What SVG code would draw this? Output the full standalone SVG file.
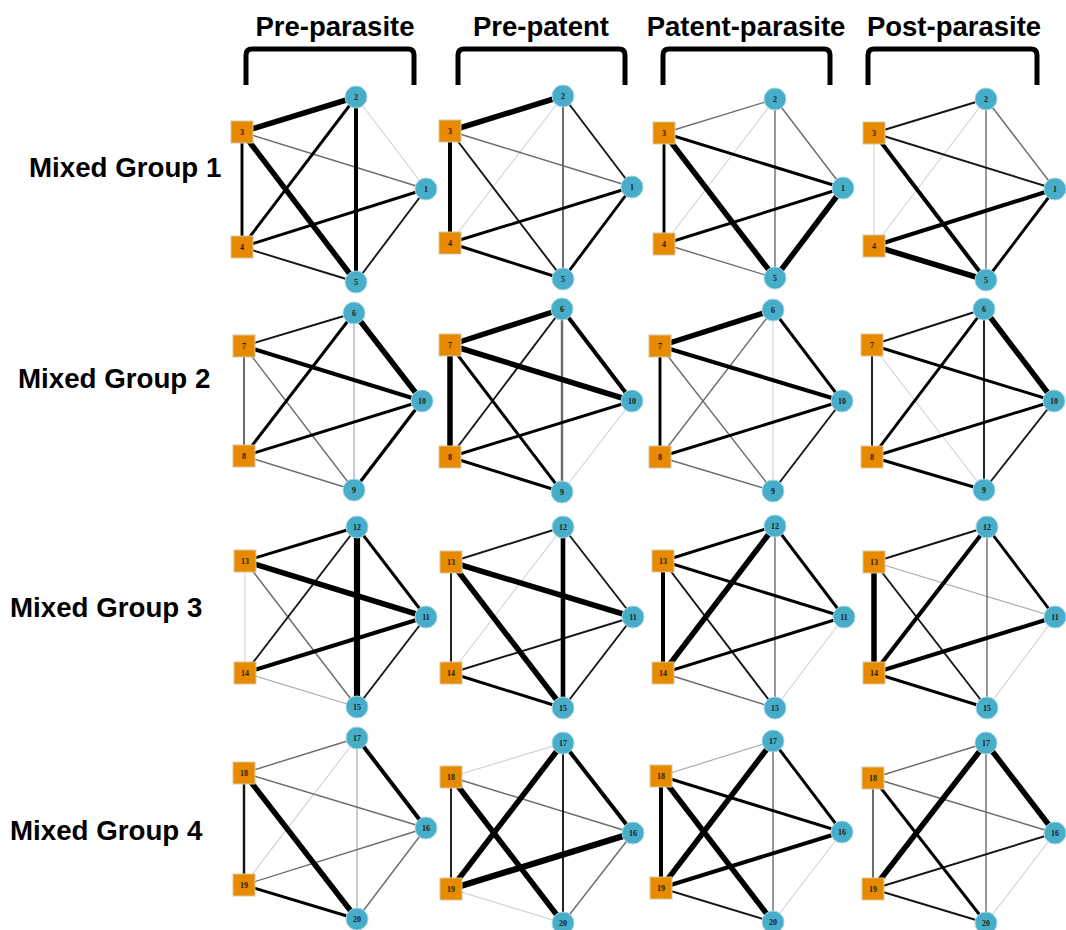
<svg xmlns="http://www.w3.org/2000/svg" width="1066" height="930" viewBox="0 0 1066 930">
<style>
  .hdr { font: bold 27.5px "Liberation Sans", Arial, sans-serif; fill: #000; text-anchor: middle; }
  .row { font: bold 27.7px "Liberation Sans", Arial, sans-serif; fill: #000; }
  .brk { fill: none; stroke: #000; stroke-width: 5; stroke-linejoin: round; }
  .edges line { stroke-linecap: butt; }
  .w1 { stroke: #d2d2d2; stroke-width: 1.1; }
  .w1b { stroke: #acacac; stroke-width: 1.2; }
  .w2 { stroke: #6b6b6b; stroke-width: 1.4; }
  .w3 { stroke: #161616; stroke-width: 1.9; }
  .w4 { stroke: #000; stroke-width: 2.9; }
  .w5 { stroke: #000; stroke-width: 4; }
  .w6 { stroke: #000; stroke-width: 5.5; }
  .c circle { fill: #47adc8; stroke: #a6d6e4; stroke-width: 1; }
  .s rect { fill: #e88a00; stroke: #d8c7a6; stroke-width: 1; }
  .c text, .s text { font: bold 8px "Liberation Serif", "Times New Roman", serif; fill: #1c1c1c; text-anchor: middle; }
</style>

<!-- column headings with brackets -->
<g id="headings">
  <text class="hdr" x="335" y="36">Pre-parasite</text>
  <text class="hdr" x="541" y="36">Pre-patent</text>
  <text class="hdr" x="746" y="36">Patent-parasite</text>
  <text class="hdr" x="954" y="36">Post-parasite</text>
  <path class="brk" d="M246,85 V55 Q246,49 252,49 H408 Q414,49 414,55 V85"/>
  <path class="brk" d="M458,85 V55 Q458,49 464,49 H619 Q625,49 625,55 V85"/>
  <path class="brk" d="M663,85 V55 Q663,49 669,49 H824 Q830,49 830,55 V85"/>
  <path class="brk" d="M868,85 V55 Q868,49 874,49 H1031 Q1037,49 1037,55 V85"/>
</g>

<!-- row labels -->
<g id="row-labels">
  <text class="row" x="29" y="177">Mixed Group 1</text>
  <text class="row" x="18" y="388">Mixed Group 2</text>
  <text class="row" x="10" y="617">Mixed Group 3</text>
  <text class="row" x="10" y="840">Mixed Group 4</text>
</g>

<!-- weighted association edges -->
<g id="connectors" class="edges">
  <!-- group 1, pre-parasite -->
  <line class="w1" x1="356" y1="97" x2="426" y2="189"/>
  <line class="w2" x1="242" y1="132" x2="426" y2="189"/>
  <line class="w3" x1="242" y1="247" x2="356" y2="282"/>
  <line class="w3" x1="426" y1="189" x2="356" y2="282"/>
  <line class="w4" x1="242" y1="132" x2="242" y2="247"/>
  <line class="w4" x1="356" y1="97" x2="242" y2="247"/>
  <line class="w4" x1="242" y1="247" x2="426" y2="189"/>
  <line class="w5" x1="356" y1="97" x2="356" y2="282"/>
  <line class="w6" x1="242" y1="132" x2="356" y2="97"/>
  <line class="w6" x1="242" y1="132" x2="356" y2="282"/>
  <!-- group 1, pre-patent -->
  <line class="w1" x1="563" y1="96" x2="450" y2="243"/>
  <line class="w2" x1="450" y1="131" x2="632" y2="187"/>
  <line class="w2" x1="563" y1="96" x2="563" y2="279" style="stroke-width:2"/>
  <line class="w3" x1="450" y1="131" x2="563" y2="279"/>
  <line class="w3" x1="563" y1="96" x2="632" y2="187"/>
  <line class="w4" x1="450" y1="243" x2="632" y2="187"/>
  <line class="w4" x1="450" y1="243" x2="563" y2="279"/>
  <line class="w4" x1="632" y1="187" x2="563" y2="279"/>
  <line class="w5" x1="450" y1="131" x2="450" y2="243"/>
  <line class="w6" x1="450" y1="131" x2="563" y2="96"/>
  <!-- group 1, patent-parasite -->
  <line class="w1" x1="775" y1="99" x2="664" y2="244"/>
  <line class="w2" x1="664" y1="133" x2="775" y2="99"/>
  <line class="w2" x1="775" y1="99" x2="775" y2="278"/>
  <line class="w2" x1="775" y1="99" x2="843" y2="188"/>
  <line class="w2" x1="664" y1="244" x2="775" y2="278"/>
  <line class="w4" x1="664" y1="133" x2="843" y2="188"/>
  <line class="w4" x1="664" y1="133" x2="664" y2="244"/>
  <line class="w4" x1="664" y1="244" x2="843" y2="188"/>
  <line class="w6" x1="664" y1="133" x2="775" y2="278"/>
  <line class="w6" x1="843" y1="188" x2="775" y2="278"/>
  <!-- group 1, post-parasite -->
  <line class="w1" x1="874" y1="133" x2="874" y2="246"/>
  <line class="w1" x1="986" y1="99" x2="874" y2="246"/>
  <line class="w2" x1="986" y1="99" x2="986" y2="280"/>
  <line class="w2" x1="986" y1="99" x2="1055" y2="189"/>
  <line class="w3" x1="874" y1="133" x2="986" y2="99"/>
  <line class="w3" x1="874" y1="133" x2="1055" y2="189"/>
  <line class="w4" x1="1055" y1="189" x2="986" y2="280"/>
  <line class="w5" x1="874" y1="133" x2="986" y2="280"/>
  <line class="w5" x1="874" y1="246" x2="1055" y2="189"/>
  <line class="w6" x1="874" y1="246" x2="986" y2="280"/>

  <!-- group 2, pre-parasite -->
  <line class="w1b" x1="354" y1="313" x2="354" y2="490"/>
  <line class="w2" x1="244" y1="346" x2="244" y2="456" style="stroke-width:2"/>
  <line class="w2" x1="244" y1="346" x2="354" y2="490"/>
  <line class="w2" x1="244" y1="456" x2="354" y2="490"/>
  <line class="w3" x1="244" y1="346" x2="354" y2="313"/>
  <line class="w4" x1="354" y1="313" x2="244" y2="456"/>
  <line class="w4" x1="244" y1="456" x2="422" y2="401"/>
  <line class="w4" x1="422" y1="401" x2="354" y2="490" style="stroke-width:3.3"/>
  <line class="w5" x1="244" y1="346" x2="422" y2="401"/>
  <line class="w6" x1="354" y1="313" x2="422" y2="401"/>
  <!-- group 2, pre-patent -->
  <line class="w1" x1="632" y1="401" x2="562" y2="492"/>
  <line class="w2" x1="562" y1="309" x2="562" y2="492" style="stroke-width:2.4"/>
  <line class="w3" x1="562" y1="309" x2="450" y2="457"/>
  <line class="w4" x1="450" y1="345" x2="562" y2="492"/>
  <line class="w4" x1="450" y1="457" x2="632" y2="401"/>
  <line class="w4" x1="450" y1="457" x2="562" y2="492"/>
  <line class="w5" x1="562" y1="309" x2="632" y2="401"/>
  <line class="w6" x1="450" y1="345" x2="562" y2="309"/>
  <line class="w6" x1="450" y1="345" x2="632" y2="401"/>
  <line class="w6" x1="450" y1="345" x2="450" y2="457"/>
  <!-- group 2, patent-parasite -->
  <line class="w1" x1="773" y1="310" x2="773" y2="491"/>
  <line class="w2" x1="660" y1="346" x2="773" y2="491"/>
  <line class="w2" x1="773" y1="310" x2="660" y2="457"/>
  <line class="w2" x1="660" y1="457" x2="773" y2="491"/>
  <line class="w3" x1="842" y1="401" x2="773" y2="491"/>
  <line class="w4" x1="660" y1="346" x2="660" y2="457"/>
  <line class="w4" x1="773" y1="310" x2="842" y2="401"/>
  <line class="w4" x1="660" y1="457" x2="842" y2="401"/>
  <line class="w5" x1="660" y1="346" x2="842" y2="401"/>
  <line class="w6" x1="660" y1="346" x2="773" y2="310"/>
  <!-- group 2, post-parasite -->
  <line class="w1" x1="872" y1="345" x2="984" y2="490"/>
  <line class="w3" x1="872" y1="345" x2="984" y2="309"/>
  <line class="w3" x1="872" y1="345" x2="872" y2="457"/>
  <line class="w3" x1="984" y1="309" x2="984" y2="490"/>
  <line class="w3" x1="1054" y1="401" x2="984" y2="490"/>
  <line class="w4" x1="872" y1="345" x2="1054" y2="401"/>
  <line class="w4" x1="984" y1="309" x2="872" y2="457"/>
  <line class="w4" x1="872" y1="457" x2="1054" y2="401"/>
  <line class="w4" x1="872" y1="457" x2="984" y2="490"/>
  <line class="w6" x1="984" y1="309" x2="1054" y2="401"/>

  <!-- group 3, pre-parasite -->
  <line class="w1" x1="245" y1="561" x2="245" y2="673"/>
  <line class="w1b" x1="245" y1="673" x2="357" y2="707"/>
  <line class="w2" x1="245" y1="561" x2="357" y2="707"/>
  <line class="w3" x1="357" y1="527" x2="245" y2="673"/>
  <line class="w3" x1="426" y1="617" x2="357" y2="707"/>
  <line class="w4" x1="245" y1="561" x2="357" y2="527"/>
  <line class="w4" x1="357" y1="527" x2="426" y2="617"/>
  <line class="w5" x1="245" y1="673" x2="426" y2="617"/>
  <line class="w6" x1="245" y1="561" x2="426" y2="617"/>
  <line class="w6" x1="357" y1="527" x2="357" y2="707" style="stroke-width:6.2"/>
  <!-- group 3, pre-patent -->
  <line class="w1" x1="563" y1="527" x2="451" y2="673"/>
  <line class="w3" x1="451" y1="562" x2="563" y2="527"/>
  <line class="w3" x1="451" y1="562" x2="451" y2="673"/>
  <line class="w3" x1="563" y1="527" x2="633" y2="617"/>
  <line class="w3" x1="451" y1="673" x2="633" y2="617"/>
  <line class="w3" x1="633" y1="617" x2="563" y2="708"/>
  <line class="w4" x1="451" y1="673" x2="563" y2="708"/>
  <line class="w5" x1="563" y1="527" x2="563" y2="708" style="stroke-width:4.6"/>
  <line class="w6" x1="451" y1="562" x2="633" y2="617"/>
  <line class="w6" x1="451" y1="562" x2="563" y2="708"/>
  <!-- group 3, patent-parasite -->
  <line class="w1" x1="844" y1="617" x2="775" y2="708"/>
  <line class="w2" x1="775" y1="526" x2="775" y2="708"/>
  <line class="w2" x1="663" y1="673" x2="775" y2="708"/>
  <line class="w3" x1="663" y1="561" x2="775" y2="708"/>
  <line class="w4" x1="663" y1="561" x2="775" y2="526"/>
  <line class="w4" x1="663" y1="561" x2="844" y2="617"/>
  <line class="w4" x1="775" y1="526" x2="844" y2="617"/>
  <line class="w4" x1="663" y1="673" x2="844" y2="617"/>
  <line class="w5" x1="663" y1="561" x2="663" y2="673"/>
  <line class="w6" x1="775" y1="526" x2="663" y2="673"/>
  <!-- group 3, post-parasite -->
  <line class="w1" x1="1055" y1="617" x2="987" y2="708"/>
  <line class="w1b" x1="874" y1="562" x2="1055" y2="617"/>
  <line class="w2" x1="987" y1="527" x2="987" y2="708"/>
  <line class="w3" x1="874" y1="562" x2="987" y2="527"/>
  <line class="w3" x1="874" y1="562" x2="987" y2="708"/>
  <line class="w4" x1="987" y1="527" x2="1055" y2="617"/>
  <line class="w4" x1="874" y1="673" x2="987" y2="708"/>
  <line class="w5" x1="987" y1="527" x2="874" y2="673"/>
  <line class="w5" x1="874" y1="673" x2="1055" y2="617"/>
  <line class="w6" x1="874" y1="562" x2="874" y2="673"/>

  <!-- group 4, pre-parasite -->
  <line class="w1" x1="357" y1="738" x2="244" y2="885"/>
  <line class="w1b" x1="357" y1="738" x2="357" y2="919"/>
  <line class="w2" x1="244" y1="773" x2="357" y2="738"/>
  <line class="w2" x1="244" y1="773" x2="426" y2="828"/>
  <line class="w2" x1="244" y1="885" x2="426" y2="828"/>
  <line class="w2" x1="426" y1="828" x2="357" y2="919"/>
  <line class="w3" x1="244" y1="773" x2="244" y2="885" style="stroke-width:2.5"/>
  <line class="w4" x1="244" y1="885" x2="357" y2="919"/>
  <line class="w5" x1="357" y1="738" x2="426" y2="828"/>
  <line class="w6" x1="244" y1="773" x2="357" y2="919"/>
  <!-- group 4, pre-patent -->
  <line class="w1" x1="451" y1="777" x2="563" y2="743"/>
  <line class="w1" x1="451" y1="889" x2="563" y2="923"/>
  <line class="w2" x1="451" y1="777" x2="633" y2="833"/>
  <line class="w2" x1="633" y1="833" x2="563" y2="923"/>
  <line class="w3" x1="451" y1="777" x2="451" y2="889"/>
  <line class="w3" x1="563" y1="743" x2="563" y2="923"/>
  <line class="w5" x1="563" y1="743" x2="633" y2="833"/>
  <line class="w6" x1="451" y1="777" x2="563" y2="923"/>
  <line class="w6" x1="563" y1="743" x2="451" y2="889"/>
  <line class="w6" x1="451" y1="889" x2="633" y2="833" style="stroke-width:6.2"/>
  <!-- group 4, patent-parasite -->
  <line class="w1" x1="842" y1="832" x2="773" y2="922"/>
  <line class="w1b" x1="661" y1="776" x2="773" y2="741"/>
  <line class="w2" x1="773" y1="741" x2="773" y2="922"/>
  <line class="w3" x1="661" y1="888" x2="773" y2="922"/>
  <line class="w4" x1="661" y1="776" x2="842" y2="832"/>
  <line class="w4" x1="773" y1="741" x2="842" y2="832"/>
  <line class="w5" x1="661" y1="776" x2="661" y2="888"/>
  <line class="w5" x1="661" y1="888" x2="842" y2="832"/>
  <line class="w6" x1="661" y1="776" x2="773" y2="922"/>
  <line class="w6" x1="773" y1="741" x2="661" y2="888"/>
  <!-- group 4, post-parasite -->
  <line class="w1" x1="1055" y1="833" x2="986" y2="923"/>
  <line class="w2" x1="873" y1="778" x2="986" y2="743"/>
  <line class="w2" x1="873" y1="778" x2="1055" y2="833"/>
  <line class="w2" x1="873" y1="778" x2="873" y2="889" style="stroke-width:2"/>
  <line class="w2" x1="986" y1="743" x2="986" y2="923"/>
  <line class="w3" x1="873" y1="889" x2="1055" y2="833"/>
  <line class="w3" x1="873" y1="889" x2="986" y2="923"/>
  <line class="w4" x1="873" y1="778" x2="986" y2="923"/>
  <line class="w6" x1="986" y1="743" x2="873" y2="889"/>
  <line class="w6" x1="986" y1="743" x2="1055" y2="833"/>
</g>

<!-- nodes: group 1 -->
<g id="g1-pre-n2" class="c"><circle cx="356" cy="97" r="11"/><text x="356" y="100">2</text></g>
<g id="g1-pre-n3" class="s"><rect x="231" y="121" width="22" height="22"/><text x="242" y="135">3</text></g>
<g id="g1-pre-n1" class="c"><circle cx="426" cy="189" r="11"/><text x="426" y="192">1</text></g>
<g id="g1-pre-n4" class="s"><rect x="231" y="236" width="22" height="22"/><text x="242" y="250">4</text></g>
<g id="g1-pre-n5" class="c"><circle cx="356" cy="282" r="11"/><text x="356" y="285">5</text></g>

<g id="g1-prepat-n2" class="c"><circle cx="563" cy="96" r="11"/><text x="563" y="99">2</text></g>
<g id="g1-prepat-n3" class="s"><rect x="439" y="120" width="22" height="22"/><text x="450" y="134">3</text></g>
<g id="g1-prepat-n1" class="c"><circle cx="632" cy="187" r="11"/><text x="632" y="190">1</text></g>
<g id="g1-prepat-n4" class="s"><rect x="439" y="232" width="22" height="22"/><text x="450" y="246">4</text></g>
<g id="g1-prepat-n5" class="c"><circle cx="563" cy="279" r="11"/><text x="563" y="282">5</text></g>

<g id="g1-patent-n2" class="c"><circle cx="775" cy="99" r="11"/><text x="775" y="102">2</text></g>
<g id="g1-patent-n3" class="s"><rect x="653" y="122" width="22" height="22"/><text x="664" y="136">3</text></g>
<g id="g1-patent-n1" class="c"><circle cx="843" cy="188" r="11"/><text x="843" y="191">1</text></g>
<g id="g1-patent-n4" class="s"><rect x="653" y="233" width="22" height="22"/><text x="664" y="247">4</text></g>
<g id="g1-patent-n5" class="c"><circle cx="775" cy="278" r="11"/><text x="775" y="281">5</text></g>

<g id="g1-post-n2" class="c"><circle cx="986" cy="99" r="11"/><text x="986" y="102">2</text></g>
<g id="g1-post-n3" class="s"><rect x="863" y="122" width="22" height="22"/><text x="874" y="136">3</text></g>
<g id="g1-post-n1" class="c"><circle cx="1055" cy="189" r="11"/><text x="1055" y="192">1</text></g>
<g id="g1-post-n4" class="s"><rect x="863" y="235" width="22" height="22"/><text x="874" y="249">4</text></g>
<g id="g1-post-n5" class="c"><circle cx="986" cy="280" r="11"/><text x="986" y="283">5</text></g>

<!-- nodes: group 2 -->
<g id="g2-pre-n6" class="c"><circle cx="354" cy="313" r="11"/><text x="354" y="316">6</text></g>
<g id="g2-pre-n7" class="s"><rect x="233" y="335" width="22" height="22"/><text x="244" y="349">7</text></g>
<g id="g2-pre-n10" class="c"><circle cx="422" cy="401" r="11"/><text x="422" y="404">10</text></g>
<g id="g2-pre-n8" class="s"><rect x="233" y="445" width="22" height="22"/><text x="244" y="459">8</text></g>
<g id="g2-pre-n9" class="c"><circle cx="354" cy="490" r="11"/><text x="354" y="493">9</text></g>

<g id="g2-prepat-n6" class="c"><circle cx="562" cy="309" r="11"/><text x="562" y="312">6</text></g>
<g id="g2-prepat-n7" class="s"><rect x="439" y="334" width="22" height="22"/><text x="450" y="348">7</text></g>
<g id="g2-prepat-n10" class="c"><circle cx="632" cy="401" r="11"/><text x="632" y="404">10</text></g>
<g id="g2-prepat-n8" class="s"><rect x="439" y="446" width="22" height="22"/><text x="450" y="460">8</text></g>
<g id="g2-prepat-n9" class="c"><circle cx="562" cy="492" r="11"/><text x="562" y="495">9</text></g>

<g id="g2-patent-n6" class="c"><circle cx="773" cy="310" r="11"/><text x="773" y="313">6</text></g>
<g id="g2-patent-n7" class="s"><rect x="649" y="335" width="22" height="22"/><text x="660" y="349">7</text></g>
<g id="g2-patent-n10" class="c"><circle cx="842" cy="401" r="11"/><text x="842" y="404">10</text></g>
<g id="g2-patent-n8" class="s"><rect x="649" y="446" width="22" height="22"/><text x="660" y="460">8</text></g>
<g id="g2-patent-n9" class="c"><circle cx="773" cy="491" r="11"/><text x="773" y="494">9</text></g>

<g id="g2-post-n6" class="c"><circle cx="984" cy="309" r="11"/><text x="984" y="312">6</text></g>
<g id="g2-post-n7" class="s"><rect x="861" y="334" width="22" height="22"/><text x="872" y="348">7</text></g>
<g id="g2-post-n10" class="c"><circle cx="1054" cy="401" r="11"/><text x="1054" y="404">10</text></g>
<g id="g2-post-n8" class="s"><rect x="861" y="446" width="22" height="22"/><text x="872" y="460">8</text></g>
<g id="g2-post-n9" class="c"><circle cx="984" cy="490" r="11"/><text x="984" y="493">9</text></g>

<!-- nodes: group 3 -->
<g id="g3-pre-n12" class="c"><circle cx="357" cy="527" r="11"/><text x="357" y="530">12</text></g>
<g id="g3-pre-n13" class="s"><rect x="234" y="550" width="22" height="22"/><text x="245" y="564">13</text></g>
<g id="g3-pre-n11" class="c"><circle cx="426" cy="617" r="11"/><text x="426" y="620">11</text></g>
<g id="g3-pre-n14" class="s"><rect x="234" y="662" width="22" height="22"/><text x="245" y="676">14</text></g>
<g id="g3-pre-n15" class="c"><circle cx="357" cy="707" r="11"/><text x="357" y="710">15</text></g>

<g id="g3-prepat-n12" class="c"><circle cx="563" cy="527" r="11"/><text x="563" y="530">12</text></g>
<g id="g3-prepat-n13" class="s"><rect x="440" y="551" width="22" height="22"/><text x="451" y="565">13</text></g>
<g id="g3-prepat-n11" class="c"><circle cx="633" cy="617" r="11"/><text x="633" y="620">11</text></g>
<g id="g3-prepat-n14" class="s"><rect x="440" y="662" width="22" height="22"/><text x="451" y="676">14</text></g>
<g id="g3-prepat-n15" class="c"><circle cx="563" cy="708" r="11"/><text x="563" y="711">15</text></g>

<g id="g3-patent-n12" class="c"><circle cx="775" cy="526" r="11"/><text x="775" y="529">12</text></g>
<g id="g3-patent-n13" class="s"><rect x="652" y="550" width="22" height="22"/><text x="663" y="564">13</text></g>
<g id="g3-patent-n11" class="c"><circle cx="844" cy="617" r="11"/><text x="844" y="620">11</text></g>
<g id="g3-patent-n14" class="s"><rect x="652" y="662" width="22" height="22"/><text x="663" y="676">14</text></g>
<g id="g3-patent-n15" class="c"><circle cx="775" cy="708" r="11"/><text x="775" y="711">15</text></g>

<g id="g3-post-n12" class="c"><circle cx="987" cy="527" r="11"/><text x="987" y="530">12</text></g>
<g id="g3-post-n13" class="s"><rect x="863" y="551" width="22" height="22"/><text x="874" y="565">13</text></g>
<g id="g3-post-n11" class="c"><circle cx="1055" cy="617" r="11"/><text x="1055" y="620">11</text></g>
<g id="g3-post-n14" class="s"><rect x="863" y="662" width="22" height="22"/><text x="874" y="676">14</text></g>
<g id="g3-post-n15" class="c"><circle cx="987" cy="708" r="11"/><text x="987" y="711">15</text></g>

<!-- nodes: group 4 -->
<g id="g4-pre-n17" class="c"><circle cx="357" cy="738" r="11"/><text x="357" y="741">17</text></g>
<g id="g4-pre-n18" class="s"><rect x="233" y="762" width="22" height="22"/><text x="244" y="776">18</text></g>
<g id="g4-pre-n16" class="c"><circle cx="426" cy="828" r="11"/><text x="426" y="831">16</text></g>
<g id="g4-pre-n19" class="s"><rect x="233" y="874" width="22" height="22"/><text x="244" y="888">19</text></g>
<g id="g4-pre-n20" class="c"><circle cx="357" cy="919" r="11"/><text x="357" y="922">20</text></g>

<g id="g4-prepat-n17" class="c"><circle cx="563" cy="743" r="11"/><text x="563" y="746">17</text></g>
<g id="g4-prepat-n18" class="s"><rect x="440" y="766" width="22" height="22"/><text x="451" y="780">18</text></g>
<g id="g4-prepat-n16" class="c"><circle cx="633" cy="833" r="11"/><text x="633" y="836">16</text></g>
<g id="g4-prepat-n19" class="s"><rect x="440" y="878" width="22" height="22"/><text x="451" y="892">19</text></g>
<g id="g4-prepat-n20" class="c"><circle cx="563" cy="923" r="11"/><text x="563" y="926">20</text></g>

<g id="g4-patent-n17" class="c"><circle cx="773" cy="741" r="11"/><text x="773" y="744">17</text></g>
<g id="g4-patent-n18" class="s"><rect x="650" y="765" width="22" height="22"/><text x="661" y="779">18</text></g>
<g id="g4-patent-n16" class="c"><circle cx="842" cy="832" r="11"/><text x="842" y="835">16</text></g>
<g id="g4-patent-n19" class="s"><rect x="650" y="877" width="22" height="22"/><text x="661" y="891">19</text></g>
<g id="g4-patent-n20" class="c"><circle cx="773" cy="922" r="11"/><text x="773" y="925">20</text></g>

<g id="g4-post-n17" class="c"><circle cx="986" cy="743" r="11"/><text x="986" y="746">17</text></g>
<g id="g4-post-n18" class="s"><rect x="862" y="767" width="22" height="22"/><text x="873" y="781">18</text></g>
<g id="g4-post-n16" class="c"><circle cx="1055" cy="833" r="11"/><text x="1055" y="836">16</text></g>
<g id="g4-post-n19" class="s"><rect x="862" y="878" width="22" height="22"/><text x="873" y="892">19</text></g>
<g id="g4-post-n20" class="c"><circle cx="986" cy="923" r="11"/><text x="986" y="926">20</text></g>
</svg>
